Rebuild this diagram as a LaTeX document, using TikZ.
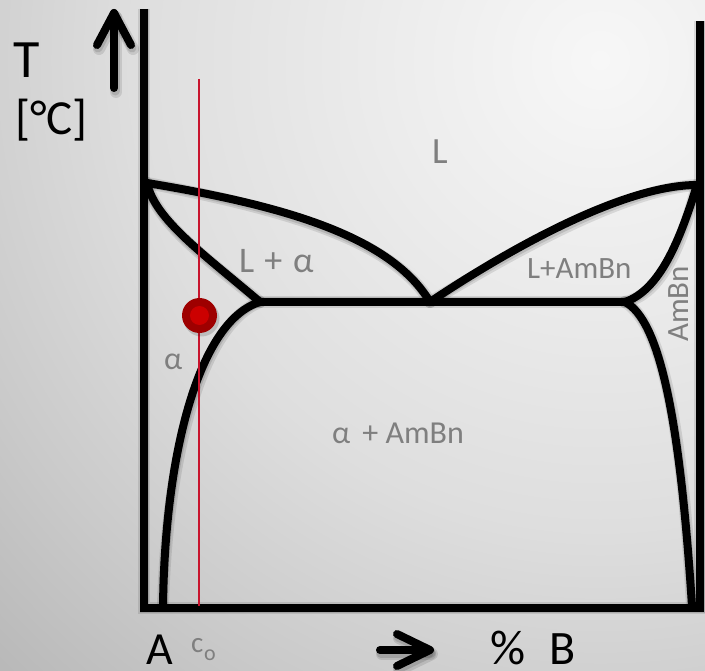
\documentclass[tikz,border=0pt]{standalone}
\usepackage{fontspec}
\setmainfont{Carlito}
\definecolor{labgray}{RGB}{127,127,127}
\definecolor{darkdot}{RGB}{158,0,0}
\definecolor{brightdot}{RGB}{204,0,0}
\definecolor{redline}{RGB}{200,20,45}
\definecolor{bgA}{RGB}{247,247,247}
\definecolor{bgB}{RGB}{236,236,236}
\definecolor{bgC}{RGB}{222,222,222}
\definecolor{bgD}{RGB}{202,202,202}
\definecolor{bgE}{RGB}{180,180,180}
\pgfdeclareradialshading{slidebg}{\pgfpoint{0bp}{0bp}}{%
  color(0bp)=(bgA); color(6bp)=(bgB); color(13bp)=(bgC);
  color(19bp)=(bgD); color(25bp)=(bgE); color(50bp)=(bgE)}
\newcommand\diaglines[1]{%
  \draw[axis,#1] (Atop) -- (A0) -- (B0) -- (Btop);
  \draw[curve,#1] (TA) .. controls (280,205) and (390,235) .. (Eu);
  \draw[curve,#1] (TA) .. controls (155,220) and (205,255) .. (Ea);
  \draw[curve,#1] (Ea) -- (Eb);
  \draw[curve,#1] (Ea) .. controls (200,320) and (165,450) .. (Sa);
  \draw[curve,#1] (Eu) .. controls (500,255) and (620,185) .. (TB);
  \draw[curve,#1] (TB) .. controls (680,240) and (660,290) .. (Eb);
  \draw[curve,#1] (Eb) .. controls (660,320) and (680,420) .. (Sb);
  \draw[arrowline,#1] (114,88) -- (114,13);
  \draw[arrowline,#1] (97,45) -- (114,13) -- (131,45);
  \draw[arrowline,#1] (380,650) -- (428,650);
  \draw[arrowline,#1] (397,634) -- (430,650) -- (397,666);
}
\begin{document}
\begin{tikzpicture}[x=1pt,y=-1pt,
  axis/.style={line width=8pt, line join=miter},
  curve/.style={line width=8pt, line cap=round, line join=round},
  arrowline/.style={line width=8pt, line cap=round, line join=round},
  softshadow/.style={draw=black, opacity=0.10, line width=12pt, shift={(2,4)}},
  hardshadow/.style={draw=black, opacity=0.12, line width=9pt, shift={(1,3)}},
  glabel/.style={text=labgray, font=\fontsize{32}{36}\selectfont, inner sep=0pt, anchor=base west},
  blabel/.style={text=black, inner sep=0pt, anchor=base west, text depth=0pt}
]
\useasboundingbox (0,0) rectangle (705,671);
\begin{scope}
  \clip (0,0) rectangle (705,671);
  \fill[bgE] (0,0) rectangle (705,671);
  \shade[shading=slidebg] (600,60) circle (900pt);
\end{scope}

\coordinate (Atop) at (144,9);
\coordinate (A0) at (144,608);
\coordinate (B0) at (700,608);
\coordinate (Btop) at (700,21);
\coordinate (TA) at (147,183);
\coordinate (TB) at (697,185);
\coordinate (Eu) at (430,302);
\coordinate (Ea) at (260,302);
\coordinate (Eb) at (625,302);
\coordinate (Sa) at (163,606);
\coordinate (Sb) at (692,606);
\coordinate (Ctop) at (199,79);
\coordinate (Cbot) at (199,606);
\coordinate (Pt) at (199.5,315.5);

\diaglines{softshadow}
\diaglines{hardshadow}
\diaglines{draw=black}

\draw[redline, line width=1.4pt] (Ctop) -- (Cbot);
\fill[black, opacity=0.15] ([shift={(2,3)}]Pt) circle (18pt);
\fill[darkdot] (Pt) circle (17.5pt);
\fill[brightdot] (Pt) circle (9.5pt);

\node[blabel, font=\fontsize{54}{56}\selectfont] (T) at (13,78) {T};
\node[blabel, font=\fontsize{49}{52}\selectfont] (unit) at (15,135) {[°C]};
\node[blabel, font=\fontsize{46}{48}\selectfont] (A) at (146,664) {A};
\node[blabel, font=\fontsize{49}{50}\selectfont] (pct) at (490,664) {\%};
\node[blabel, font=\fontsize{48}{50}\selectfont] (B) at (549,664) {B};
\node[glabel, font=\fontsize{29}{30}\selectfont] (c) at (191,652) {c};
\node[glabel, font=\fontsize{22}{24}\selectfont] (o) at (204,660) {o};

\node[glabel, font=\fontsize{37}{40}\selectfont] (L) at (432,164) {L};
\node[glabel, font=\fontsize{36}{40}\selectfont] (La) at (239,273) {L\hspace{10pt}+\hspace{11pt}α};
\node[glabel, font=\fontsize{31}{34}\selectfont] (LAB) at (527,279) {L+AmBn};
\node[glabel, font=\fontsize{31}{34}\selectfont, rotate=90] (AB) at (688,342) {AmBn};
\node[glabel] (alpha) at (164,370) {α};
\node[glabel] (aAB) at (332,443) {α\hspace{12pt}+ AmBn};
\end{tikzpicture}
\end{document}
